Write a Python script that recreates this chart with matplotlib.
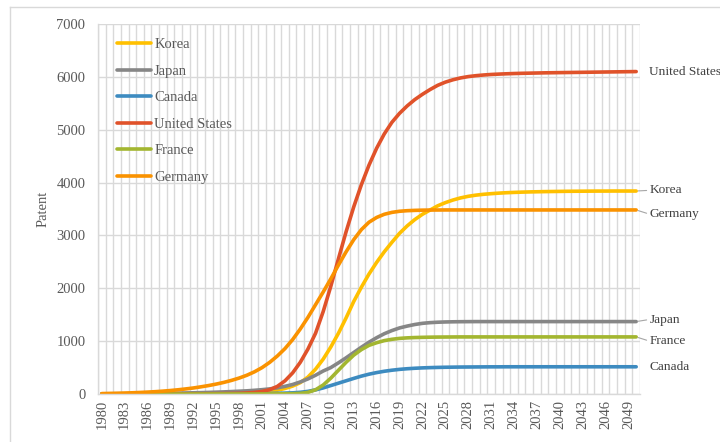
import matplotlib
matplotlib.use("Agg")
import matplotlib.pyplot as plt
from matplotlib.lines import Line2D

# Years on the category axis
years = list(range(1980, 2051))

korea = [
    0, 0, 0, 1, 1, 1, 1, 2, 2, 2,
    3, 3, 4, 4, 5, 6, 8, 10, 13, 18,
    25, 35, 50, 72, 105, 150, 215, 320, 470, 660,
    890, 1150, 1440, 1750, 2020, 2270, 2490, 2690, 2870, 3040,
    3180, 3300, 3400, 3480, 3560, 3620, 3670, 3710, 3740, 3762,
    3778, 3790, 3800, 3808, 3814, 3819, 3823, 3826, 3829, 3831,
    3833, 3835, 3836, 3837, 3838, 3839, 3839, 3840, 3840, 3840,
    3840,
]

japan = [
    3, 4, 5, 6, 7, 8, 9, 11, 13, 15,
    17, 20, 23, 26, 30, 35, 40, 46, 53, 60,
    70, 82, 97, 117, 145, 180, 228, 285, 355, 435,
    500, 590, 685, 785, 885, 980, 1065, 1140, 1200, 1250,
    1285, 1315, 1337, 1350, 1358, 1363, 1366, 1368, 1369, 1370,
    1370, 1370, 1370, 1370, 1370, 1370, 1370, 1370, 1370, 1370,
    1370, 1370, 1370, 1370, 1370, 1370, 1370, 1370, 1370, 1370,
    1370,
]

canada = [
    0, 0, 0, 0, 1, 1, 1, 1, 1, 2,
    2, 2, 2, 3, 3, 3, 4, 4, 5, 6,
    7, 8, 10, 13, 17, 22, 32, 50, 78, 115,
    160, 205, 250, 295, 338, 375, 405, 430, 450, 466,
    478, 487, 494, 499, 503, 506, 508, 510, 511, 512,
    513, 514, 514, 515, 515, 515, 515, 515, 515, 515,
    515, 515, 515, 515, 515, 515, 515, 515, 515, 515,
    515,
]

united_states = [
    0, 0, 0, 1, 1, 1, 1, 2, 2, 2,
    3, 3, 4, 4, 5, 6, 8, 10, 13, 20,
    30, 48, 82, 145, 250, 400, 600, 850, 1150, 1560,
    2040, 2560, 3070, 3540, 3960, 4330, 4650, 4920, 5140, 5310,
    5450, 5570, 5670, 5760, 5840, 5900, 5945, 5980, 6005, 6022,
    6035, 6045, 6052, 6058, 6063, 6067, 6070, 6073, 6076, 6078,
    6080, 6082, 6084, 6086, 6088, 6090, 6092, 6094, 6096, 6098,
    6100,
]

france = [
    0, 0, 0, 0, 0, 0, 0, 0, 0, 0,
    0, 0, 0, 0, 0, 1, 1, 1, 1, 1,
    1, 2, 2, 3, 4, 6, 12, 30, 80, 170,
    300, 450, 600, 735, 840, 920, 970, 1010, 1035, 1052,
    1062, 1068, 1072, 1075, 1077, 1078, 1079, 1080, 1080, 1080,
    1080, 1080, 1080, 1080, 1080, 1080, 1080, 1080, 1080, 1080,
    1080, 1080, 1080, 1080, 1080, 1080, 1080, 1080, 1080, 1080,
    1080,
]

germany = [
    8, 11, 14, 18, 23, 29, 36, 44, 54, 66,
    80, 96, 114, 136, 160, 188, 220, 258, 302, 355,
    420, 500, 600, 720, 860, 1030, 1230, 1450, 1690, 1930,
    2180, 2440, 2690, 2920, 3110, 3250, 3340, 3400, 3436, 3457,
    3468, 3474, 3478, 3480, 3481, 3482, 3482, 3482, 3482, 3482,
    3482, 3482, 3482, 3482, 3482, 3482, 3482, 3482, 3482, 3482,
    3482, 3482, 3482, 3482, 3482, 3482, 3482, 3482, 3482, 3482,
    3482,
]

series_names = ["Korea", "Japan", "Canada", "United States", "France", "Germany"]
series_values = [korea, japan, canada, united_states, france, germany]
series_colors = ["#FFC000", "#868686", "#3D8BC0", "#E0522A", "#A3B630", "#FA9200"]

y_ticks = [0, 1000, 2000, 3000, 4000, 5000, 6000, 7000]

plt.rcParams["font.family"] = ["Liberation Serif", "DejaVu Serif"]
text_color = "#595959"
grid_color = "#d9d9d9"

fig = plt.figure(figsize=(7.2, 4.42), dpi=100)
ax = fig.add_axes([98 / 720, 1 - 394 / 442, 542 / 720, 370 / 442])

x = list(range(len(years)))
for name, vals, col in zip(series_names, series_values, series_colors):
    ax.plot(x, vals, color=col, lw=2.6, label=name,
            solid_capstyle="round", solid_joinstyle="round")

ax.set_xlim(-0.5, len(years) - 0.5)
ax.set_ylim(0, 7000)
ax.set_yticks(y_ticks)
ax.set_yticklabels([str(v) for v in y_ticks])

tick_pos = x[::3]
ax.set_xticks(tick_pos)
ax.set_xticklabels([str(years[i]) for i in tick_pos], rotation=90)
ax.set_xticks([i - 0.5 for i in range(len(years) + 1)], minor=True)

ax.tick_params(axis="both", which="both", length=0, labelsize=10.5,
               labelcolor=text_color)
ax.tick_params(axis="y", pad=9)
ax.tick_params(axis="x", pad=4)

ax.grid(True, axis="y", which="major", color=grid_color, lw=1.0)
ax.grid(True, axis="x", which="minor", color=grid_color, lw=1.0)
ax.grid(False, axis="x", which="major")
ax.set_axisbelow(True)

for side in ("top", "right"):
    ax.spines[side].set_visible(False)
for side in ("left", "bottom"):
    ax.spines[side].set_color(grid_color)
    ax.spines[side].set_linewidth(1.0)

ax.set_ylabel("Patent", fontsize=10.5, color=text_color)
ax.yaxis.set_label_coords(-48 / 542, 0.5)

leg = ax.legend(loc="upper left", bbox_to_anchor=(19 / 542, 1 - 14 / 370),
                frameon=False, fontsize=10.5, handlelength=2.35,
                handletextpad=0.2, labelspacing=0.91, borderpad=0,
                borderaxespad=0)
for t in leg.get_texts():
    t.set_color(text_color)

# End-of-line data labels: (series index, vertical offset in points, leader line)
end_labels = [
    (3, 0.0, False),
    (0, 0.5, True),
    (5, -3.0, True),
    (1, 1.5, True),
    (4, -3.0, True),
    (2, -0.5, False),
]
last = len(years) - 1
for idx, dy, leader in end_labels:
    vals = series_values[idx]
    kw = {}
    if leader:
        kw["arrowprops"] = dict(arrowstyle="-", color="#a6a6a6", lw=0.8,
                                shrinkA=0, shrinkB=1.5,
                                relpos=(0, 0.5))
    ax.annotate(series_names[idx], xy=(last, vals[-1]), xycoords="data",
                xytext=(9.5, dy), textcoords="offset points",
                ha="left", va="center", fontsize=9.6, color="#404040",
                annotation_clip=False, **kw)

# Chart-area border
fig.add_artist(Line2D([10 / 720, 10 / 720], [0, 1 - 7 / 442],
                      transform=fig.transFigure, color=grid_color, lw=1.0))
fig.add_artist(Line2D([10 / 720, 1], [1 - 7 / 442, 1 - 7 / 442],
                      transform=fig.transFigure, color=grid_color, lw=1.0))

fig.savefig("out.png", dpi=100)
